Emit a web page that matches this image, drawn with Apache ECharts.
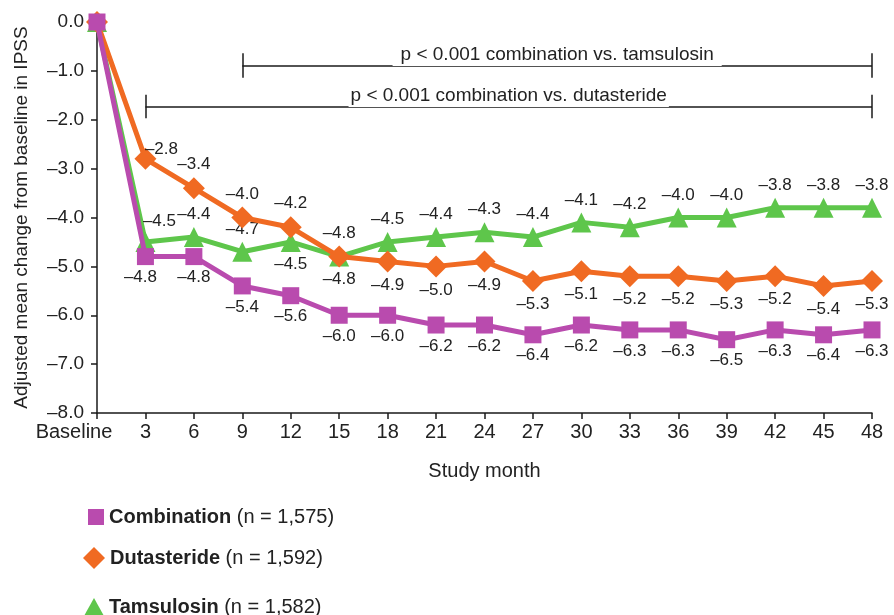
<!DOCTYPE html>
<html>
<head>
<meta charset="utf-8">
<script src="https://cdn.jsdelivr.net/npm/echarts@6/dist/echarts.min.js"></script>
<style>html,body{margin:0;padding:0;background:#fff}#c{width:894px;height:615px}</style>
</head>
<body>
<div id="c"></div>
<script>
const months = ['Baseline','3','6','9','12','15','18','21','24','27','30','33','36','39','42','45','48'];
const combination = [0,-4.8,-4.8,-5.4,-5.6,-6.0,-6.0,-6.2,-6.2,-6.4,-6.2,-6.3,-6.3,-6.5,-6.3,-6.4,-6.3];
const dutasteride = [0,-2.8,-3.4,-4.0,-4.2,-4.8,-4.9,-5.0,-4.9,-5.3,-5.1,-5.2,-5.2,-5.3,-5.2,-5.4,-5.3];
const tamsulosin  = [0,-4.5,-4.4,-4.7,-4.5,-4.8,-4.5,-4.4,-4.3,-4.4,-4.1,-4.2,-4.0,-4.0,-3.8,-3.8,-3.8];
const yTicks = [-8,-7,-6,-5,-4,-3,-2,-1,0];

// label placement (t = above, b = below, - = none)
const combPos = '-bbbbbbbbbbbbbbbb';
const dutaPos = '-tttttbbbbbbbbbbb';
const tamsPos = '-tttbbtttttttttttt';

const fmt = v => (v === 0 ? '0.0' : (v < 0 ? '\u2013' : '') + Math.abs(v).toFixed(1));

function build(vals, pos, offsets) {
  return vals.map((v, i) => {
    const p = pos[i];
    const o = { value: v };
    if (p === '-') o.label = { show: false };
    else {
      o.label = { show: true, position: p === 't' ? 'top' : 'bottom' };
      if (offsets && offsets[i]) o.label.offset = offsets[i];
    }
    return o;
  });
}

const C_PURPLE = '#B94BAE', C_ORANGE = '#F06A22', C_GREEN = '#5EC64B';
const FONT = 'Liberation Sans, Arial, sans-serif';
const labelStyle = { color: '#222', fontSize: 17, fontFamily: FONT, distance: 4, formatter: p => fmt(p.value) };
const legendText = { fontSize: 20, color: '#222', fontFamily: FONT, rich: { b: { fontWeight: 'bold', fontSize: 20, color: '#222', fontFamily: FONT } } };

const chart = echarts.init(document.getElementById('c'));
const lineCol = '#1a1a1a';
chart.setOption({
  animation: false,
  textStyle: { fontFamily: FONT },
  grid: { left: 97, right: 22, top: 22, bottom: 202, containLabel: false },
  xAxis: {
    type: 'category',
    data: months.map((m, i) => i === 0 ? { value: m, textStyle: { padding: [0, 46, 0, 0] } } : m),
    boundaryGap: false,
    axisLine: { onZero: false, lineStyle: { color: lineCol, width: 1.5 } },
    axisTick: { alignWithLabel: true, length: 6, lineStyle: { color: lineCol, width: 1.5 }, interval: 0 },
    axisLabel: { interval: 0, color: '#222', fontSize: 20, margin: 9 },
    name: 'Study month', nameLocation: 'middle', nameGap: 48,
    nameTextStyle: { color: '#222', fontSize: 20 }
  },
  yAxis: {
    type: 'value', min: -8, max: 0, interval: 1,
    axisLine: { show: true, lineStyle: { color: lineCol, width: 1.5 } },
    axisTick: { show: true, length: 6, lineStyle: { color: lineCol, width: 1.5 } },
    splitLine: { show: false },
    axisLabel: { color: '#222', fontSize: 19, margin: 13, formatter: v => fmt(v) },
    name: 'Adjusted mean change from baseline in IPSS', nameLocation: 'middle', nameGap: 66,
    nameTextStyle: { color: '#222', fontSize: 19 }
  },
  legend: [
    { orient: 'vertical', left: 83, top: 502, itemWidth: 16, itemHeight: 16, itemGap: 6, data: [{ name: 'Combination', icon: 'rect' }],
      formatter: () => '{b|Combination} (n = 1,575)', textStyle: legendText },
    { orient: 'vertical', left: 78, top: 542, itemWidth: 22, itemHeight: 22, itemGap: 4, data: [{ name: 'Dutasteride', icon: 'diamond' }],
      formatter: () => '{b|Dutasteride} (n = 1,592)', textStyle: legendText },
    { orient: 'vertical', left: 79, top: 592, itemWidth: 20, itemHeight: 18, itemGap: 5, data: [{ name: 'Tamsulosin', icon: 'triangle' }],
      formatter: () => '{b|Tamsulosin} (n = 1,582)', textStyle: legendText }
  ],
  series: [
    {
      name: 'Tamsulosin', type: 'line', data: build(tamsulosin, tamsPos, { 1: [14, 2] }),
      symbol: 'triangle', symbolSize: 20, color: C_GREEN,
      lineStyle: { width: 5, color: C_GREEN }, itemStyle: { color: C_GREEN },
      label: labelStyle, z: 2
    },
    {
      name: 'Dutasteride', type: 'line', data: build(dutasteride, dutaPos, { 1: [16, 14] }),
      symbol: 'diamond', symbolSize: 22, color: C_ORANGE,
      lineStyle: { width: 5, color: C_ORANGE }, itemStyle: { color: C_ORANGE },
      label: labelStyle, z: 3
    },
    {
      name: 'Combination', type: 'line', data: build(combination, combPos, { 1: [-5, 0] }),
      symbol: 'rect', symbolSize: 17, color: C_PURPLE,
      lineStyle: { width: 5, color: C_PURPLE }, itemStyle: { color: C_PURPLE },
      label: labelStyle, z: 4,
      markLine: {
        silent: true, symbol: 'none', animation: false,
        lineStyle: { color: lineCol, width: 1.5, type: 'solid' },
        label: { show: false },
        data: [
          [{ coord: [3, -0.9], label: { show: true, position: 'middle', formatter: 'p < 0.001 combination vs. tamsulosin', color: '#222', fontSize: 19, backgroundColor: '#fff', padding: [2, 8], distance: 0 } }, { coord: [16, -0.9] }],
          [{ coord: [3, -0.64] }, { coord: [3, -1.14] }],
          [{ coord: [16, -0.64] }, { coord: [16, -1.14] }],
          [{ coord: [1, -1.74], label: { show: true, position: 'middle', formatter: 'p < 0.001 combination vs. dutasteride', color: '#222', fontSize: 19, backgroundColor: '#fff', padding: [2, 2], distance: 0 } }, { coord: [16, -1.74] }],
          [{ coord: [1, -1.49] }, { coord: [1, -1.97] }],
          [{ coord: [16, -1.49] }, { coord: [16, -1.97] }]
        ]
      }
    }
  ]
});
</script>
</body>
</html>
